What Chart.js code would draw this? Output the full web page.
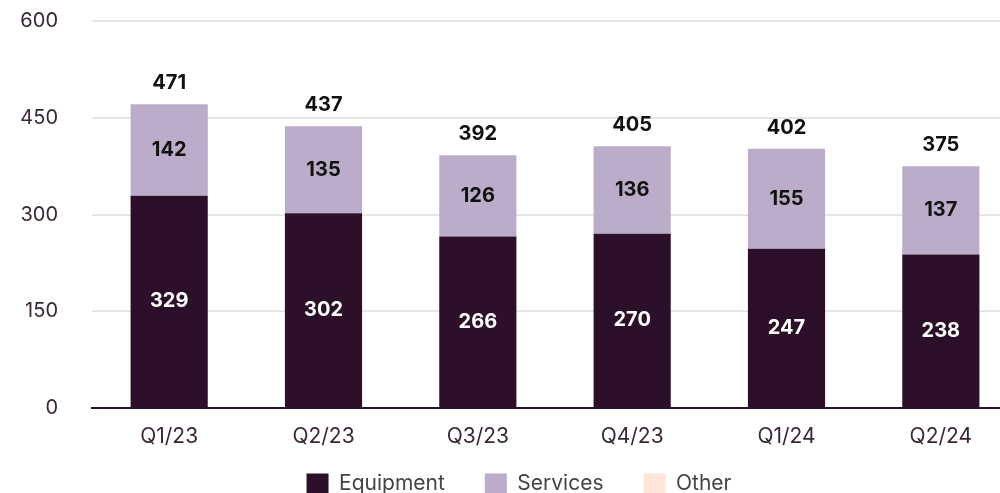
<!DOCTYPE html>
<html>
<head>
<meta charset="utf-8">
<script src="https://cdn.jsdelivr.net/npm/chart.js@4/dist/chart.umd.min.js"></script>
<style>
  html,body{margin:0;padding:0;background:#fff;overflow:hidden}
  #wrap{width:1018px;height:493px;position:relative}
</style>
</head>
<body>
<div id="wrap"><canvas id="c"></canvas></div>
<script>
// data
const quarters=['Q1/23','Q2/23','Q3/23','Q4/23','Q1/24','Q2/24'];
const equipment=[329,302,266,270,247,238];
const services=[142,135,126,136,155,137];
const other=[0,0,0,0,0,0];
const totals=[471,437,392,405,402,375];
const yTicks=[0,150,300,450,600];

const FONT='Inter, "DejaVu Sans", sans-serif';
const colors={equipment:'#2c1029',services:'#bbadc9',other:'#fde5d9'};

// segment values + totals on top
const labelsPlugin={
  id:'barLabels',
  afterLayout(chart){
    // nudge legend: ref sits a bit right of centre and lower than chart.js puts it
    const lg=chart.legend; if(!lg) return;
    lg.left+=20;
    lg.top=486-40-12.6;
  },
  afterDatasetsDraw(chart){
    const ctx=chart.ctx; ctx.save();
    ctx.font='bold 20px '+FONT; ctx.textAlign='center'; ctx.textBaseline='middle';
    chart.data.datasets.forEach((ds,di)=>{
      const meta=chart.getDatasetMeta(di);
      if(meta.hidden) return;
      meta.data.forEach((bar,i)=>{
        const v=ds.data[i]; if(!v) return;
        ctx.fillStyle=di===0?'#ffffff':'#111111';
        ctx.fillText(String(v),bar.x,(bar.y+bar.base)/2);
      });
    });
    const y=chart.scales.y, meta0=chart.getDatasetMeta(0);
    ctx.fillStyle='#111111'; ctx.textBaseline='alphabetic';
    totals.forEach((t,i)=>{
      const top=y.getPixelForValue(equipment[i]+services[i]+other[i]);
      ctx.fillText(String(t),meta0.data[i].x,top-15);
    });
    ctx.restore();
  }
};

new Chart(document.getElementById('c'),{
  type:'bar',
  data:{labels:quarters,datasets:[
    {label:'Equipment',data:equipment,backgroundColor:colors.equipment},
    {label:'Services',data:services,backgroundColor:colors.services},
    {label:'Other',data:other,backgroundColor:colors.other}
  ]},
  options:{
    responsive:true,maintainAspectRatio:false,animation:false,
    layout:{padding:0},
    datasets:{bar:{barPercentage:0.5,categoryPercentage:1}},
    plugins:{
      legend:{position:'bottom',maxHeight:43,labels:{font:{family:FONT,size:21},color:'#444444',boxWidth:22,boxHeight:21,padding:40}},
      tooltip:{enabled:false}
    },
    scales:{
      x:{stacked:true,
        afterFit(s){s.height=42;},
        grid:{display:false,drawTicks:false},
        border:{color:'#2c1029',width:2},
        ticks:{font:{family:FONT,size:21},color:'#3a2838',padding:16}},
      y:{stacked:true,min:0,max:600,
        afterBuildTicks(s){s.ticks=yTicks.map(v=>({value:v}));},
        afterFit(s){s.width=92;s.paddingTop=21;s.paddingBottom=12;},
        grid:{color:'#e6e6e6',lineWidth:2,drawTicks:false},
        border:{display:false},
        ticks:{font:{family:FONT,size:20},color:'#3a2838',padding:34}}
    }
  },
  plugins:[labelsPlugin]
});
</script>
</body>
</html>
